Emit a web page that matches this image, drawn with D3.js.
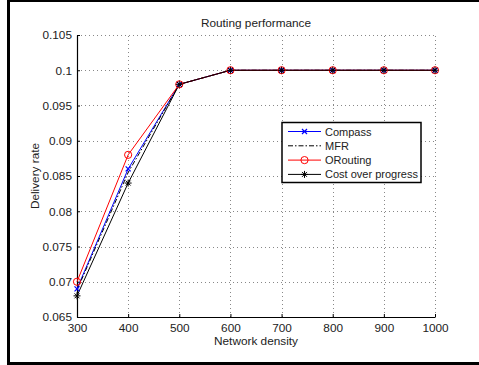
<!DOCTYPE html>
<html>
<head>
<meta charset="utf-8">
<script src="https://cdn.jsdelivr.net/npm/d3@7"></script>
<style>
  body { margin: 0; background: #fff; }
  svg text { font-family: "Liberation Sans", Arial, sans-serif; fill: #222; }
</style>
</head>
<body>
<div id="chart"></div>
<script>
// Chart data.
const density = [300, 400, 500, 600, 700, 800, 900, 1000];
const compass = [0.069, 0.086, 0.098, 0.1, 0.1, 0.1, 0.1, 0.1];
const mfr = [0.0688, 0.0855, 0.098, 0.1, 0.1, 0.1, 0.1, 0.1];
const orouting = [0.070, 0.088, 0.098, 0.1, 0.1, 0.1, 0.1, 0.1];
const costOverProgress = [0.068, 0.084, 0.098, 0.1, 0.1, 0.1, 0.1, 0.1];
const yTicks = [0.065, 0.07, 0.075, 0.08, 0.085, 0.09, 0.095, 0.1, 0.105];
const yTickLabels = ["0.065", "0.07", "0.075", "0.08", "0.085", "0.09", "0.095", "0.1", "0.105"];

const series = [
  { name: "Compass", values: compass, color: "#0000ff", dash: null, marker: "x" },
  { name: "MFR", values: mfr, color: "#000", dash: "5,2,1.5,2", marker: null },
  { name: "ORouting", values: orouting, color: "#ff0000", dash: null, marker: "o" },
  { name: "Cost over progress", values: costOverProgress, color: "#000", dash: null, marker: "*" },
];

const width = 479;
const height = 365;
const margin = { top: 35, right: 44, bottom: 48, left: 77 };
const fontSize = 11.8;
const legendFontSize = 11;

const svg = d3.select("#chart")
  .append("svg")
    .attr("width", width)
    .attr("height", height);

// Outer frame of the figure (right edge falls outside the window).
svg.append("rect")
  .attr("x", 8.5).attr("y", 0.5)
  .attr("width", width + 40).attr("height", 363)
  .attr("fill", "none")
  .attr("stroke", "#000")
  .attr("stroke-width", 3);

const x = d3.scaleLinear()
  .domain([300, 1000])
  .range([margin.left, width - margin.right]);

const y = d3.scaleLinear()
  .domain([0.065, 0.105])
  .range([height - margin.bottom, margin.top]);

// Dotted grid.
const grid = svg.append("g")
  .attr("stroke", "#888")
  .attr("stroke-width", 1)
  .attr("stroke-dasharray", "1,3");

grid.selectAll(".gx")
  .data(density.slice(1))
  .enter()
  .append("line")
    .attr("x1", d => Math.round(x(d)) + 0.5)
    .attr("x2", d => Math.round(x(d)) + 0.5)
    .attr("y1", y(0.065))
    .attr("y2", y(0.105));

grid.selectAll(".gy")
  .data(yTicks.slice(1))
  .enter()
  .append("line")
    .attr("x1", x(300))
    .attr("x2", x(1000))
    .attr("y1", d => Math.round(y(d)) + 0.5)
    .attr("y2", d => Math.round(y(d)) + 0.5);

// Axes (ticks point inward like MATLAB).
const xAxis = svg.append("g")
  .attr("transform", `translate(0,${y(0.065)})`)
  .call(d3.axisBottom(x).tickValues(density).tickFormat(d3.format("d"))
    .tickSizeInner(-3).tickSizeOuter(0).tickPadding(7));

const yAxis = svg.append("g")
  .attr("transform", `translate(${x(300)},0)`)
  .call(d3.axisLeft(y).tickValues(yTicks).tickFormat((d, i) => yTickLabels[i])
    .tickSizeInner(-3).tickSizeOuter(0).tickPadding(5));

[xAxis, yAxis].forEach(ax => {
  ax.select(".domain").attr("stroke", "#000").attr("stroke-width", 1.2);
  ax.selectAll(".tick line").attr("stroke", "#000");
  ax.selectAll("text")
    .attr("font-size", fontSize)
    .attr("font-family", "Liberation Sans, Arial, sans-serif")
    .attr("fill", "#222");
});

// Lines.
const line = d3.line()
  .x((d, i) => x(density[i]))
  .y(d => y(d));

function drawMarker(g, type, color, cx, cy) {
  if (type === "x") {
    g.append("path")
      .attr("d", `M${cx - 2.5},${cy - 2.5}L${cx + 2.5},${cy + 2.5}M${cx - 2.5},${cy + 2.5}L${cx + 2.5},${cy - 2.5}`)
      .attr("stroke", color).attr("stroke-width", 1.2);
  } else if (type === "o") {
    g.append("circle")
      .attr("cx", cx).attr("cy", cy).attr("r", 3.6)
      .attr("fill", "none").attr("stroke", color).attr("stroke-width", 1);
  } else if (type === "*") {
    const r = 3.5;
    let d = `M${cx - r},${cy}L${cx + r},${cy}M${cx},${cy - r}L${cx},${cy + r}`;
    const k = r * 0.7;
    d += `M${cx - k},${cy - k}L${cx + k},${cy + k}M${cx - k},${cy + k}L${cx + k},${cy - k}`;
    g.append("path").attr("d", d).attr("stroke", color).attr("stroke-width", 1);
  }
}

const plot = svg.append("g");
series.forEach(s => {
  plot.append("path")
    .datum(s.values)
    .attr("d", line)
    .attr("fill", "none")
    .attr("stroke", s.color)
    .attr("stroke-width", 1)
    .attr("stroke-dasharray", s.dash);
});
series.forEach(s => {
  if (!s.marker) return;
  const g = plot.append("g");
  s.values.forEach((v, i) => drawMarker(g, s.marker, s.color, x(density[i]), y(v)));
});

// Title and axis labels.
svg.append("text")
  .attr("x", (x(300) + x(1000)) / 2)
  .attr("y", 27)
  .attr("text-anchor", "middle")
  .attr("font-size", fontSize)
  .text("Routing performance");

svg.append("text")
  .attr("x", (x(300) + x(1000)) / 2)
  .attr("y", 345)
  .attr("text-anchor", "middle")
  .attr("font-size", fontSize)
  .text("Network density");

svg.append("text")
  .attr("transform", `translate(39,${(y(0.065) + y(0.105)) / 2}) rotate(-90)`)
  .attr("text-anchor", "middle")
  .attr("font-size", fontSize)
  .text("Delivery rate");

// Legend.
const legend = svg.append("g").attr("transform", "translate(282,122.5)");
legend.append("rect")
  .attr("width", 139).attr("height", 60)
  .attr("fill", "#fff")
  .attr("stroke", "#000")
  .attr("stroke-width", 1.5);

series.forEach((s, i) => {
  const ly = 9 + i * 14.3;
  const row = legend.append("g");
  row.append("line")
    .attr("x1", 6).attr("x2", 39)
    .attr("y1", ly).attr("y2", ly)
    .attr("stroke", s.color)
    .attr("stroke-width", 1)
    .attr("stroke-dasharray", s.dash);
  if (s.marker) drawMarker(row, s.marker, s.color, 22.5, ly);
  row.append("text")
    .attr("x", 43).attr("y", ly + 4)
    .attr("font-size", legendFontSize)
    .text(s.name);
});
</script>
</body>
</html>
